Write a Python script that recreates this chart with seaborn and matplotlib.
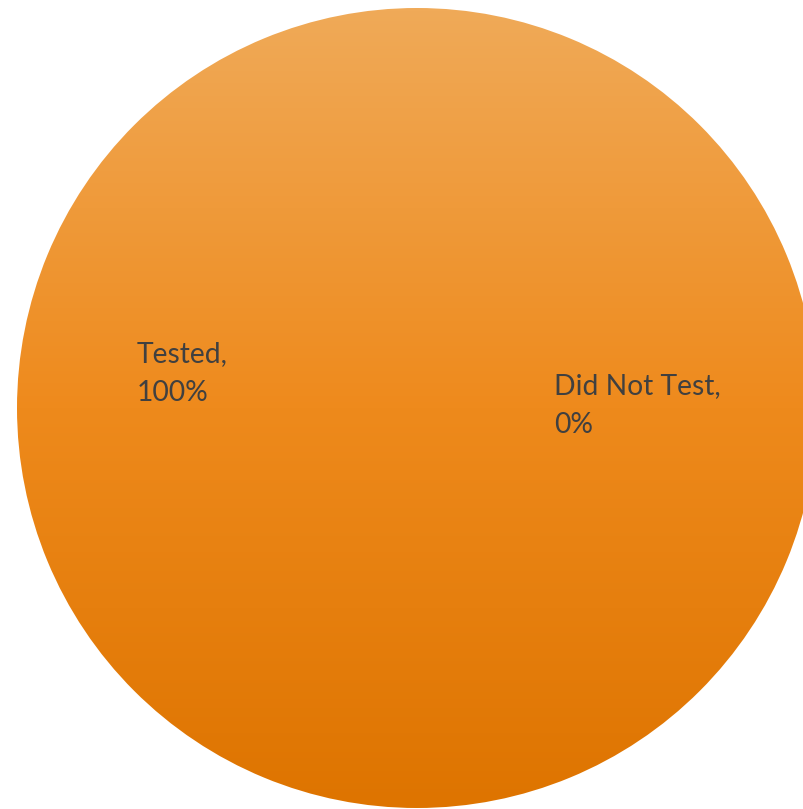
import numpy as np
import seaborn as sns
import matplotlib.pyplot as plt
from matplotlib.colors import LinearSegmentedColormap

# datos del grafico
categorias = ["Tested", "Did Not Test"]
valores = [100, 0]
porcentajes = ["100%", "0%"]

sns.set_theme(style="white")
plt.rcParams['font.family'] = ['Lato', 'DejaVu Sans']

fig = plt.figure(figsize=(8.04, 8.09), dpi=100)
ax = fig.add_axes([0, 0, 1, 1])

# pie con un solo sector visible
wedges, _ = ax.pie(valores, startangle=90, counterclock=False, radius=1.0,
                   colors=["#EE8A1C", "#EE8A1C"],
                   wedgeprops=dict(linewidth=0))

# degradado vertical (claro arriba, oscuro abajo)
cmap = LinearSegmentedColormap.from_list("naranja", ["#DE7400", "#EE8A1C", "#F0AA58"])
grad = np.linspace(0, 1, 256).reshape(-1, 1)
for w in wedges:
    img = ax.imshow(grad, cmap=cmap, origin="lower", aspect="auto",
                    extent=[-1, 1, -1, 1], zorder=2)
    img.set_clip_path(w)
    w.set_facecolor("none")

# escala: radio 1 = ~400 px, centro en (417, 408) px
px = 400.0
ax.set_xlim(-417 / px, (804 - 417) / px)
ax.set_ylim(-(809 - 408) / px, 408 / px)
ax.set_aspect("equal")
ax.axis("off")

# etiquetas de datos
pos_etiquetas = [(137, 341), (554, 373)]
for cat, pct, (x, y) in zip(categorias, porcentajes, pos_etiquetas):
    fig.text(x / 804, 1 - y / 809, f"{cat},\n{pct}", ha="left", va="top",
             fontsize=20.3, color="#404040", linespacing=1.62, zorder=5)

plt.savefig("out.png", dpi=100)
